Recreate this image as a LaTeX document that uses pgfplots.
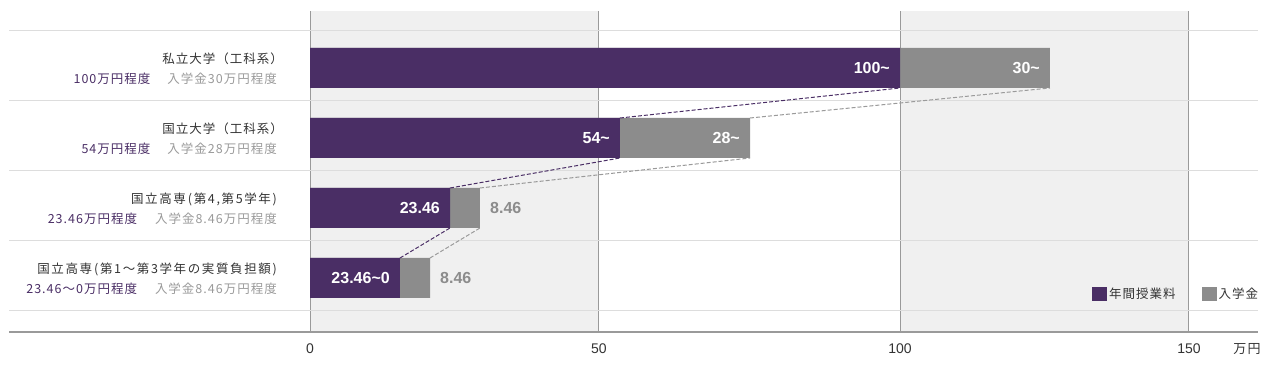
\documentclass[border=0pt]{standalone}
\usepackage{fontspec}
\setmainfont{Liberation Sans}
\newfontfamily\cjk{Noto Sans CJK JP}[LetterSpace=8]
\newfontfamily\cjkw{Noto Sans CJK JP}[LetterSpace=13]
\usepackage{pgfplots}
\pgfplotsset{compat=1.18}
\definecolor{purp}{HTML}{4A2E65}
\definecolor{bargray}{HTML}{8C8C8C}
\definecolor{bgcol}{HTML}{F0F0F0}
\definecolor{vgrid}{HTML}{9A9A9A}
\definecolor{hsep}{HTML}{DDDDDD}
\definecolor{textdark}{HTML}{333333}
\definecolor{textlight}{HTML}{9A9A9A}
\begin{document}
\begin{tikzpicture}
\path (0,0) rectangle (1266pt,366pt);
\begin{axis}[
  at={(9pt,34pt)}, anchor=south west,
  scale only axis, width=1249pt, height=321pt,
  xmin=-51.017, xmax=160.68, ymin=-0.7714, ymax=3.8143,
  set layers, clip=false,
  axis line style={draw=none},
  tick style={draw=none},
  major tick length=0pt, minor tick length=0pt,
  xtick={0,48.98,100,148.98}, xticklabels={0,50,100,150},
  xticklabel style={anchor=base, yshift=-22pt, font=\fontsize{14}{16}\selectfont, text=textdark},
  ytick={0,1,2,3}, yticklabels={},
  minor ytick={-0.4714,0.5286,1.5286,2.5286,3.5286},
  xmajorgrids, yminorgrids,
  major grid style={draw=vgrid, line width=1pt},
  minor grid style={draw=hsep, line width=1pt},
  legend image code/.code={\fill[#1] (0pt,-7pt) rectangle (15pt,7pt);},
  legend columns=2,
  legend style={at={(axis cs:132.54,-0.2286)}, anchor=west, draw=none, fill=none,
    inner sep=0pt, font=\cjk\fontsize{12.5}{14}\selectfont, text=textdark,
    /tikz/every even column/.append style={column sep=24pt}},
  barstyle/.style={xbar, bar width=40pt, bar shift=0pt, draw=none, forget plot,
    point meta=explicit symbolic, nodes near coords},
  conn/.style={line width=1pt, dash pattern=on 4pt off 2pt, forget plot, no marks},
]
\begin{pgfonlayer}{axis background}
\fill[bgcol] (axis cs:0,-0.7714) rectangle (axis cs:48.98,3.8143);
\fill[bgcol] (axis cs:100,-0.7714) rectangle (axis cs:148.98,3.8143);
\end{pgfonlayer}

% tuition + entrance fee (drawn lengths: total bar end)
\addplot[barstyle, fill=bargray, nodes near coords style={text=white, anchor=east, xshift=-10pt,
  font=\bfseries\fontsize{16}{18}\selectfont, inner sep=0pt}]
  coordinates {(125.42,3) [30\textasciitilde] (74.58,2) [28\textasciitilde]};
\addplot[barstyle, fill=bargray, nodes near coords style={text=bargray, anchor=west, xshift=10pt,
  font=\bfseries\fontsize{16}{18}\selectfont, inner sep=0pt}]
  coordinates {(28.81,1) [8.46] (20.34,0) [8.46]};
% tuition
\addplot[barstyle, fill=purp, nodes near coords style={text=white, anchor=east, xshift=-10pt,
  font=\bfseries\fontsize{16}{18}\selectfont, inner sep=0pt}]
  coordinates {(100,3) [100\textasciitilde] (52.54,2) [54\textasciitilde] (23.73,1) [23.46] (15.25,0) [23.46\textasciitilde0]};

% connectors
\addplot[conn, purp] coordinates {(52.54,2.2857) (100,2.7143)};
\addplot[conn, vgrid] coordinates {(74.58,2.2857) (125.42,2.7143)};
\addplot[conn, purp] coordinates {(23.73,1.2857) (52.54,1.7143)};
\addplot[conn, vgrid] coordinates {(28.81,1.2857) (74.58,1.7143)};
\addplot[conn, purp] coordinates {(15.25,0.2857) (23.73,0.7143)};
\addplot[conn, vgrid] coordinates {(20.34,0.2857) (28.81,0.7143)};

\addlegendimage{fill=purp, draw=none}
\addlegendentry{年間授業料}
\addlegendimage{fill=bargray, draw=none}
\addlegendentry{入学金}

% bottom line
\draw[vgrid, line width=2pt] (axis cs:-51.017,-0.7714) -- (axis cs:160.68,-0.7714);
\node[anchor=base, yshift=-22pt, xshift=937pt, font=\cjk\fontsize{13}{15}\selectfont, text=textdark, inner sep=0pt] at (axis cs:0,-0.7714) {万円};

% category labels
\tikzset{lab1/.style={anchor=base east, inner sep=0pt, font=\cjk\fontsize{12.5}{15}\selectfont, text=textdark, yshift=4.25pt},
         lab1w/.style={lab1, font=\cjkw\fontsize{12.5}{15}\selectfont},
         lab2/.style={anchor=base east, inner sep=0pt, font=\cjk\fontsize{12.5}{15}\selectfont, yshift=-15.75pt, xshift=-33pt}}
\node[lab1, xshift=-27pt] at (axis cs:0,3) {私立大学（工科系）};
\node[lab2] at (axis cs:0,3) {{\color{purp}100万円程度}\hspace{17pt}{\color{textlight}入学金30万円程度}};
\node[lab1, xshift=-27pt] at (axis cs:0,2) {国立大学（工科系）};
\node[lab2] at (axis cs:0,2) {{\color{purp}54万円程度}\hspace{17pt}{\color{textlight}入学金28万円程度}};
\node[lab1w, xshift=-33pt] at (axis cs:0,1) {国立高専\hspace{2pt}(第4,第5学年)};
\node[lab2] at (axis cs:0,1) {{\color{purp}23.46万円程度}\hspace{18pt}{\color{textlight}入学金8.46万円程度}};
\node[lab1w, xshift=-33pt] at (axis cs:0,0) {国立高専\hspace{2pt}(第1〜第3学年の実質負担額)};
\node[lab2] at (axis cs:0,0) {{\color{purp}23.46〜0万円程度}\hspace{18pt}{\color{textlight}入学金8.46万円程度}};
\end{axis}
\end{tikzpicture}
\end{document}
